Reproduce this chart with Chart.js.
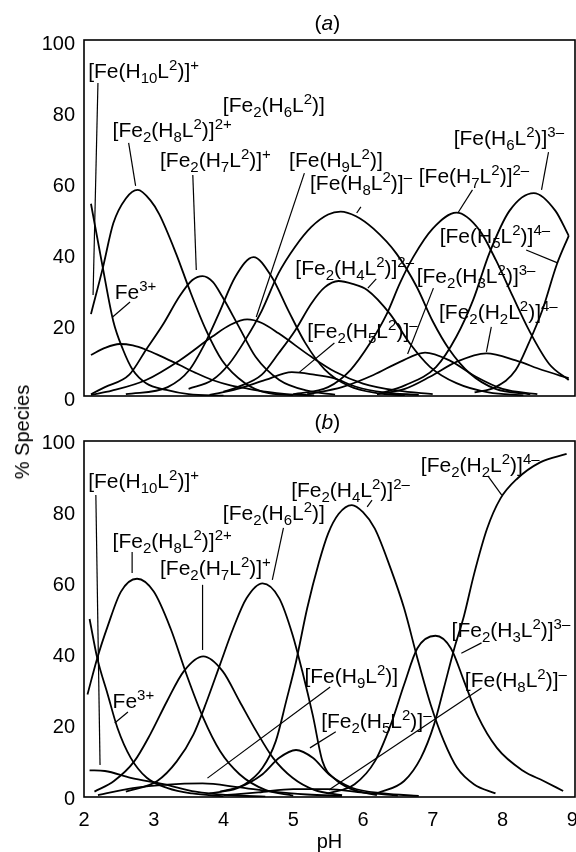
<!DOCTYPE html>
<html><head><meta charset="utf-8">
<script src="https://cdn.jsdelivr.net/npm/chart.js@4.4.1/dist/chart.umd.min.js"></script>
<style>
html,body{margin:0;padding:0;background:#fff;}
#wrap{position:relative;width:576px;height:852px;overflow:hidden;background:#fff;}
#cTop{position:absolute;left:0;top:0;}
#cBot{position:absolute;left:0;top:400px;}
#ylab{position:absolute;left:22px;top:432px;transform:translate(-50%,-50%) rotate(-90deg);font:20px "Liberation Sans",Arial,sans-serif;white-space:nowrap;color:#000;line-height:1;}
</style></head><body>
<div id="wrap">
<canvas id="cTop" width="576" height="420"></canvas>
<canvas id="cBot" width="576" height="452"></canvas>
<div id="ylab">% Species</div>
</div>
<script>
// ---- axis ticks ----
const xTicks = [2,3,4,5,6,7,8,9];
const yTicks = [0,20,40,60,80,100];

// ---- panel (a): [pH, % species] ----
const a_Fe3    = [[2.1,54],[2.27,36],[2.42,21],[2.56,13],[2.7,7.3],[2.89,3.6],[3.18,1.7],[3.5,0.5],[4.0,0.1]];
const a_FeH10L = [[2.1,11.5],[2.3,13.5],[2.51,14.6],[2.7,14.2],[2.89,13],[3.1,11.2],[3.37,8.7],[3.6,6.5],[3.84,4.5],[4.1,3],[4.31,2.2],[4.6,1.2],[4.9,0.5],[5.3,0.2]];
const a_Fe2H8L = [[2.1,23],[2.27,36],[2.42,48.5],[2.6,55.5],[2.77,57.9],[2.95,55],[3.08,51],[3.32,40],[3.51,30],[3.75,18.5],[3.98,10],[4.31,3.6],[4.6,1],[5.0,0.2]];
const a_Fe2H7L = [[2.1,0.5],[2.3,2.5],[2.65,6],[2.89,13],[3.13,20],[3.37,28],[3.55,32.5],[3.7,33.7],[3.85,32],[3.98,28],[4.22,19.5],[4.46,11],[4.8,4.5],[5.2,1.5],[5.6,0.4]];
const a_FeH9L  = [[2.1,0.3],[2.4,1.5],[2.89,4.5],[3.37,10],[3.84,16.7],[4.1,20],[4.34,21.5],[4.55,20.5],[4.79,17.6],[5.26,11],[5.6,6.8],[6.0,3.5],[6.5,1.5],[7.0,0.5]];
const a_Fe2H6L = [[2.6,0.5],[3.2,2.5],[3.51,7.3],[3.74,15],[3.93,23],[4.17,33.5],[4.43,39],[4.69,33.5],[4.93,24],[5.17,15],[5.45,7.5],[5.8,2.8],[6.2,0.8],[6.6,0.2]];
const a_Fe2H5L = [[3.8,0.3],[4.2,2],[4.6,4.5],[4.98,6.7],[5.3,6],[5.58,5],[5.9,2.6],[6.3,1],[6.8,0.3]];
const a_FeH8L  = [[3.5,2],[3.84,4.5],[4.08,9],[4.31,15.7],[4.55,24],[4.79,34.5],[5.03,42],[5.26,47.5],[5.5,51],[5.68,51.8],[5.9,50.5],[6.15,47],[6.48,40],[6.77,30.7],[7.0,21],[7.24,13],[7.53,6.4],[7.9,2],[8.4,0.5]];
const a_Fe2H4L = [[4.0,1.2],[4.2,2.5],[4.55,6],[4.79,12],[5.03,18.5],[5.26,26],[5.45,30.5],[5.65,32.3],[5.85,31.5],[6.06,29.8],[6.39,23],[6.67,14.8],[6.96,8.2],[7.34,3.6],[7.8,1],[8.3,0.2]];
const a_Fe2H3L = [[5.2,0.5],[5.7,2.5],[6.15,5.9],[6.53,9.6],[6.89,12.2],[7.24,10],[7.62,5.4],[8.0,2],[8.5,0.5]];
const a_FeH7L  = [[5.0,0.5],[5.5,2.5],[5.82,7.3],[6.1,14.8],[6.34,23],[6.53,31.7],[6.72,39],[7.0,47],[7.34,51.5],[7.67,46.6],[7.91,38],[8.15,27.9],[8.38,18.5],[8.67,9],[8.95,4.5]];
const a_Fe2H2L = [[6.2,0.5],[6.6,2],[6.96,5.4],[7.34,9.6],[7.77,12],[8.19,10],[8.57,7.3],[8.95,5]];
const a_FeH6L  = [[6.2,0.5],[6.6,3],[7.05,8.2],[7.34,16.7],[7.58,27],[7.81,40],[8.1,52],[8.45,57],[8.76,52],[8.95,45]];
const a_FeH5L  = [[7.6,1],[7.9,2.5],[8.19,7.3],[8.38,15],[8.57,24],[8.78,37],[8.95,45]];

// ---- panel (b): [pH, % species] ----
const b_Fe3    = [[2.08,50],[2.19,39],[2.34,28.8],[2.48,19.4],[2.67,11],[2.9,5.4],[3.2,2.5],[3.55,1],[4.0,0.2]];
const b_FeH10L = [[2.08,7.5],[2.3,7.3],[2.67,5.4],[3.14,3.6],[3.6,1.5],[4.1,0.5],[4.6,0.1]];
const b_Fe2H8L = [[2.05,28.8],[2.19,39],[2.34,48],[2.53,57.7],[2.76,61.3],[3.0,57.7],[3.24,47.4],[3.47,34.4],[3.71,22.2],[3.95,12.9],[4.23,6.4],[4.6,2],[5.0,0.4]];
const b_Fe2H7L = [[2.15,1.5],[2.43,4.5],[2.72,10],[2.95,17.6],[3.19,26.9],[3.43,35.3],[3.71,39.5],[3.99,35.3],[4.23,26.9],[4.47,18.5],[4.71,11],[4.99,5.4],[5.3,2],[5.7,0.5]];
const b_FeH9L  = [[2.2,0.5],[2.7,2.5],[3.2,3.5],[3.7,3.8],[4.2,2.8],[4.7,1.5],[5.2,0.7],[5.7,0.3]];
const b_Fe2H6L = [[2.6,1.5],[3.05,4.5],[3.33,10],[3.57,17.6],[3.76,26.9],[3.95,37.2],[4.14,47.4],[4.33,55.8],[4.56,60],[4.8,55.8],[4.99,45.6],[5.13,35.3],[5.28,23],[5.42,10],[5.6,5],[5.8,2.5],[6.2,0.5]];
const b_Fe2H5L = [[3.8,1],[4.2,2.5],[4.56,6.4],[4.8,11],[5.04,13.2],[5.28,11],[5.51,6.4],[5.84,2.6],[6.3,1],[6.8,0.3]];
const b_FeH8L  = [[4.0,0.5],[4.5,1.3],[5.0,2.2],[5.5,2.2],[6.0,1.2],[6.5,0.4]];
const b_Fe2H4L = [[3.95,1.5],[4.3,3.5],[4.56,8.2],[4.75,15.7],[4.9,27],[5.04,38],[5.2,53],[5.37,66],[5.5,74],[5.65,79.5],[5.84,82],[6.0,80],[6.17,75.4],[6.4,64],[6.59,53],[6.78,39],[6.97,26],[7.16,15.7],[7.35,8.2],[7.59,3.6],[7.9,1]];
const b_Fe2H3L = [[5.5,1],[5.88,3.6],[6.17,10],[6.4,20.4],[6.59,31.6],[6.78,41.8],[7.04,45.3],[7.26,41.8],[7.45,32.5],[7.64,23],[7.92,13.8],[8.3,7.3],[8.59,4.5],[8.87,1.7]];
const b_Fe2H2L = [[6.2,1],[6.59,4.5],[6.83,11],[7.02,20.4],[7.16,30.6],[7.31,41.8],[7.45,51],[7.59,62.4],[7.78,75.4],[7.97,83.8],[8.21,89.4],[8.54,94],[8.92,96.4]];

const seriesA = [a_Fe3,a_FeH10L,a_Fe2H8L,a_Fe2H7L,a_FeH9L,a_Fe2H6L,a_Fe2H5L,a_FeH8L,a_Fe2H4L,a_Fe2H3L,a_FeH7L,a_Fe2H2L,a_FeH6L,a_FeH5L];
const seriesB = [b_Fe3,b_FeH10L,b_Fe2H8L,b_Fe2H7L,b_FeH9L,b_Fe2H6L,b_Fe2H5L,b_FeH8L,b_Fe2H4L,b_Fe2H3L,b_Fe2H2L];

// ---- annotations (label text, anchor in data units, pointer line) ----
const notesA = [
 {t:'[Fe(H_{10}L^{2})]^{+}', at:[2.06,89.3], line:[[2.20,87.9],[2.13,28.4]]},
 {t:'[Fe_{2}(H_{8}L^{2})]^{2+}', at:[2.41,72.8], line:[[2.64,71.1],[2.74,59.0]]},
 {t:'[Fe_{2}(H_{6}L^{2})]', at:[3.99,79.8]},
 {t:'[Fe_{2}(H_{7}L^{2})]^{+}', at:[3.09,64.3], line:[[3.56,62.1],[3.61,35.4]]},
 {t:'[Fe(H_{9}L^{2})]', at:[4.94,64.3], line:[[5.16,62.6],[4.47,22.2]]},
 {t:'[Fe(H_{8}L^{2})]^{–}', at:[5.24,57.9], line:[[5.97,53.1],[5.91,51.4]]},
 {t:'[Fe(H_{7}L^{2})]^{2–}', at:[6.8,59.8], line:[[7.57,57.9],[7.36,51.4]]},
 {t:'[Fe(H_{6}L^{2})]^{3–}', at:[7.3,70.5], line:[[8.66,68.5],[8.56,57.9]]},
 {t:'[Fe(H_{5}L^{2})]^{4–}', at:[7.1,43.0], line:[[8.34,41.0],[8.79,37.4]]},
 {t:'[Fe_{2}(H_{4}L^{2})]^{2–}', at:[5.03,34.0], line:[[6.19,32.9],[6.07,30.3]]},
 {t:'[Fe_{2}(H_{3}L^{2})]^{3–}', at:[6.77,31.7], line:[[7.01,30.3],[6.64,11.8]]},
 {t:'[Fe_{2}(H_{5}L^{2})]^{–}', at:[5.2,16.3], line:[[5.59,14.9],[5.09,6.7]]},
 {t:'[Fe_{2}(H_{2}L^{2})]^{4–}', at:[7.09,21.6], line:[[7.84,19.4],[7.77,12.4]]},
 {t:'Fe^{3+}', at:[2.44,27.2], line:[[2.66,26.4],[2.41,22.2]]},
 {t:'(~{a})', at:[5.49,102.8], align:'center'}
];
const notesB = [
 {t:'[Fe(H_{10}L^{2})]^{+}', at:[2.06,86.8], line:[[2.17,84.8],[2.23,9.0]]},
 {t:'[Fe_{2}(H_{8}L^{2})]^{2+}', at:[2.41,69.9], line:[[2.69,68.8],[2.69,62.9]]},
 {t:'[Fe_{2}(H_{7}L^{2})]^{+}', at:[3.09,62.4], line:[[3.7,59.6],[3.7,41.3]]},
 {t:'[Fe_{2}(H_{6}L^{2})]', at:[3.99,77.8], line:[[4.86,75.6],[4.7,61.0]]},
 {t:'[Fe_{2}(H_{4}L^{2})]^{2–}', at:[4.97,84.3], line:[[6.13,83.4],[6.06,81.5]]},
 {t:'[Fe_{2}(H_{2}L^{2})]^{4–}', at:[6.83,91.3], line:[[7.79,90.2],[7.99,84.8]]},
 {t:'[Fe_{2}(H_{3}L^{2})]^{3–}', at:[7.27,44.9], line:[[7.7,43.3],[7.41,40.4]]},
 {t:'[Fe(H_{9}L^{2})]', at:[5.16,32.0], line:[[5.53,30.9],[3.77,5.3]]},
 {t:'[Fe(H_{8}L^{2})]^{–}', at:[7.46,30.9], line:[[7.7,30.6],[5.51,2.0]]},
 {t:'[Fe_{2}(H_{5}L^{2})]^{–}', at:[5.4,19.4], line:[[5.61,18.3],[5.24,13.8]]},
 {t:'Fe^{3+}', at:[2.41,25.0], line:[[2.63,23.9],[2.44,20.8]]},
 {t:'(~{b})', at:[5.49,103.4], align:'center'}
];

const FONT = '"Liberation Sans", Arial, Helvetica, sans-serif';
function parseRich(s){
  const out=[]; const re=/([_^~])\{([^}]*)\}|([^_^~]+)/g; let m;
  while((m=re.exec(s))){ if(m[3]) out.push({t:m[3],k:'n'}); else out.push({t:m[2],k:m[1]}); }
  return out;
}
function drawRich(ctx,s,x,y,align){
  const segs=parseRich(s);
  const fontFor=k=> k==='n'?`21px ${FONT}`: k==='~'?`italic 21px ${FONT}`:`15px ${FONT}`;
  let w=0;
  segs.forEach(g=>{ctx.font=fontFor(g.k); g.w=ctx.measureText(g.t).width; w+=g.w;});
  let cx = align==='center'? x-w/2 : x;
  segs.forEach(g=>{
    ctx.font=fontFor(g.k);
    const dy = g.k==='_'?5 : g.k==='^'?-8 : 0;
    ctx.fillText(g.t,cx,y+dy); cx+=g.w;
  });
}
const notesPlugin = {
  id:'notes',
  afterDraw(chart){
    const {ctx, chartArea:a, scales:{x,y}} = chart;
    ctx.save();
    ctx.strokeStyle='#000'; ctx.lineWidth=1.6;
    ctx.strokeRect(a.left,a.top,a.right-a.left,a.bottom-a.top);
    ctx.fillStyle='#000'; ctx.textBaseline='alphabetic'; ctx.textAlign='left';
    (chart.options.plugins.notes.list||[]).forEach(n=>{
      drawRich(ctx,n.t,x.getPixelForValue(n.at[0]),y.getPixelForValue(n.at[1]),n.align);
      if(n.line){
        ctx.lineWidth=1.2; ctx.beginPath();
        ctx.moveTo(x.getPixelForValue(n.line[0][0]),y.getPixelForValue(n.line[0][1]));
        ctx.lineTo(x.getPixelForValue(n.line[1][0]),y.getPixelForValue(n.line[1][1]));
        ctx.stroke();
      }
    });
    ctx.restore();
  }
};

function makeChart(id, series, notes, showX, padTop){
  return new Chart(document.getElementById(id), {
    type:'line',
    data:{datasets: series.map(s=>({
      data: s.map(([px,py])=>({x:px,y:py})),
      borderColor:'#000', borderWidth:1.8, pointRadius:0,
      cubicInterpolationMode:'monotone', fill:false
    }))},
    options:{
      responsive:false, animation:false, devicePixelRatio:1,
      layout:{padding:{top:padTop,right:1,bottom:showX?0:24,left:0}},
      plugins:{legend:{display:false}, tooltip:{enabled:false}, notes:{list:notes}},
      scales:{
        x:{type:'linear', min:2, max:9.04, display:showX,
           afterBuildTicks:s=>{s.ticks=xTicks.map(v=>({value:v}));},
           afterFit:s=>{ if(showX){ s.height=55; } s.paddingLeft=0; s.paddingRight=0; },
           grid:{display:false, drawTicks:false}, border:{display:false},
           ticks:{color:'#000', font:{family:FONT,size:20}, padding:11, maxRotation:0, autoSkip:false},
           title:{display:true, text:'pH', color:'#000', font:{family:FONT,size:20}, padding:{top:0,bottom:-2}}},
        y:{min:0, max:100,
           afterBuildTicks:s=>{s.ticks=yTicks.map(v=>({value:v}));},
           afterFit:s=>{s.width=84; s.paddingTop=0; s.paddingBottom=0;},
           grid:{display:false, drawTicks:false}, border:{display:false},
           ticks:{color:'#000', font:{family:FONT,size:20}, padding:9, labelOffset:showX?2:4}}
      }
    },
    plugins:[notesPlugin]
  });
}
makeChart('cTop', seriesA, notesA, false, 40);
makeChart('cBot', seriesB, notesB, true, 41);
</script>
</body></html>
